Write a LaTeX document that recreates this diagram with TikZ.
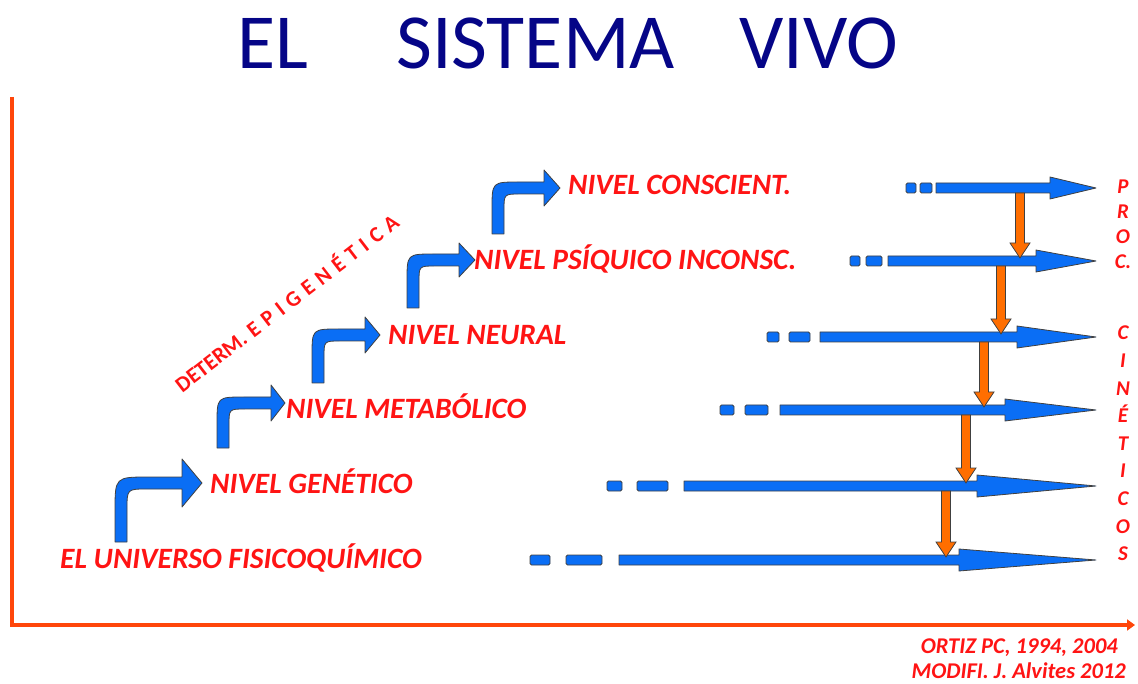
\documentclass[tikz,border=0pt]{standalone}
\usepackage{fontspec}
\setmainfont{Carlito}
\usetikzlibrary{arrows.meta}
\definecolor{titleblue}{RGB}{5,5,135}
\definecolor{lblred}{RGB}{255,20,20}
\definecolor{arrblue}{RGB}{10,110,245}
\definecolor{arrorange}{RGB}{255,110,0}
\definecolor{axisred}{RGB}{255,70,10}
\tikzset{
  titletxt/.style={text=titleblue, font=\fontsize{78}{80}\selectfont, inner sep=0pt, anchor=base west},
  lbl/.style={text=lblred, font=\fontsize{29.5}{31}\selectfont\bfseries\itshape, inner sep=0pt, anchor=base west},
  vlbl/.style={text=lblred, inner sep=0pt, anchor=north, align=center},
  credit/.style={text=lblred, font=\fontsize{22.5}{24}\selectfont\bfseries\itshape, inner sep=0pt, anchor=base east},
  bluefill/.style={fill=arrblue, draw=black!75, line width=0.8pt, line join=round},
  orangefill/.style={fill=arrorange, draw=black!75, line width=0.8pt},
  axisline/.style={draw=axisred, line width=4.5pt},
}
% horizontal arrow: y, dash1 a,b, dash2 a,b, shaft start, head base
\newcommand{\HArrow}[7]{%
  \path[bluefill, rounded corners=1.5pt] (#2,#1-5) rectangle (#3,#1+5);
  \path[bluefill, rounded corners=1.5pt] (#4,#1-5) rectangle (#5,#1+5);
  \path[bluefill] (#6,#1-5) -- (#7,#1-5) -- (#7,#1-11) -- (1096,#1) -- (#7,#1+11) -- (#7,#1+5) -- (#6,#1+5) -- cycle;
}
% bent arrow: x0, ybottom, ycenter, headbase, tip, head half height, outer radius
\newcommand{\BArrow}[7]{%
  \path[bluefill] (#1,#2) -- (#1,#3-6+#7) .. controls (#1,#3-6) .. (#1+#7,#3-6)
    -- (#4,#3-6) -- (#4,#3-#6) -- (#5,#3) -- (#4,#3+#6) -- (#4,#3+6)
    -- (#1+12+#7*0.6,#3+6) .. controls (#1+12,#3+6) .. (#1+12,#3+6+#7*0.6) -- (#1+12,#2) -- cycle;
}
% vertical orange arrow: x, upper row y, lower row y
\newcommand{\VArrow}[3]{%
  \path[orangefill] (#1-4.5,#2+5) -- (#1-4.5,#3-18) -- (#1-10,#3-18) -- (#1,#3-3)
    -- (#1+10,#3-18) -- (#1+4.5,#3-18) -- (#1+4.5,#2+5) -- cycle;
}
\begin{document}
\begin{tikzpicture}[x=1pt,y=-1pt]
\useasboundingbox (0,0) rectangle (1138,684);
% title
\node[titletxt] (tEL) at (237,69) {EL};
\node[titletxt] (tSIS) at (396,69) {SISTEMA};
\node[titletxt] (tVIVO) at (739,69) {VIVO};
% axes
\coordinate (top) at (12,97);
\coordinate (origin) at (12,625);
\coordinate (xend) at (1135,625);
\draw[axisline] (top) -- (origin);
\draw[axisline, -{Triangle[length=8pt,width=11pt]}] (10,625) -- (xend);
% bent arrows
\BArrow{115}{542}{483}{182}{202}{24}{34}
\BArrow{217}{448}{403}{271}{285}{18}{27}
\BArrow{312}{383}{335}{365}{380}{18}{27}
\BArrow{407}{308}{260}{459}{475}{17}{27}
\BArrow{492}{234}{188}{544}{560}{18}{27}
% level labels
\node[lbl] (l0) at (60,568) {EL UNIVERSO FISICOQUÍMICO};
\node[lbl] (l1) at (210,493) {NIVEL GENÉTICO};
\node[lbl] (l2) at (286,418) {NIVEL METABÓLICO};
\node[lbl] (l3) at (388,345) {NIVEL NEURAL};
\node[lbl] (l4) at (474,270) {NIVEL PSÍQUICO INCONSC.};
\node[lbl] (l5) at (568,195) {NIVEL CONSCIENT.};
% diagonal label
\node[text=lblred, font=\fontsize{22}{24}\selectfont\bfseries, rotate=37.5, inner sep=0pt] (epi) at (286,302)
  {\spaceskip=6.5pt DETERM. E P I G E N É T I C A};
% horizontal arrows
\HArrow{188}{906}{916}{920}{932}{936}{1050}
\HArrow{261}{850}{860}{866}{882}{888}{1036}
\HArrow{337}{767}{779}{789}{810}{820}{1017}
\HArrow{410}{720}{734}{745}{768}{780}{1005}
\HArrow{486}{607}{622}{637}{668}{684}{977}
\HArrow{560}{530}{550}{566}{602}{619}{959}
% orange arrows
\VArrow{1020}{188}{261}
\VArrow{1001}{261}{337}
\VArrow{984}{337}{410}
\VArrow{966}{410}{486}
\VArrow{946}{486}{560}
% vertical labels
\node[vlbl, font=\fontsize{21}{25}\selectfont\bfseries\itshape] (proc) at (1123,180) {P\\R\\O\\C.};
\node[vlbl, font=\fontsize{21}{27.6}\selectfont\bfseries\itshape] (cin) at (1123,326) {C\\I\\N\\É\\T\\I\\C\\O\\S};
% credits
\node[credit] (c1) at (1118,653) {ORTIZ PC, 1994, 2004};
\node[credit] (c2) at (1126,678) {MODIFI. J. Alvites 2012};
\end{tikzpicture}
\end{document}
